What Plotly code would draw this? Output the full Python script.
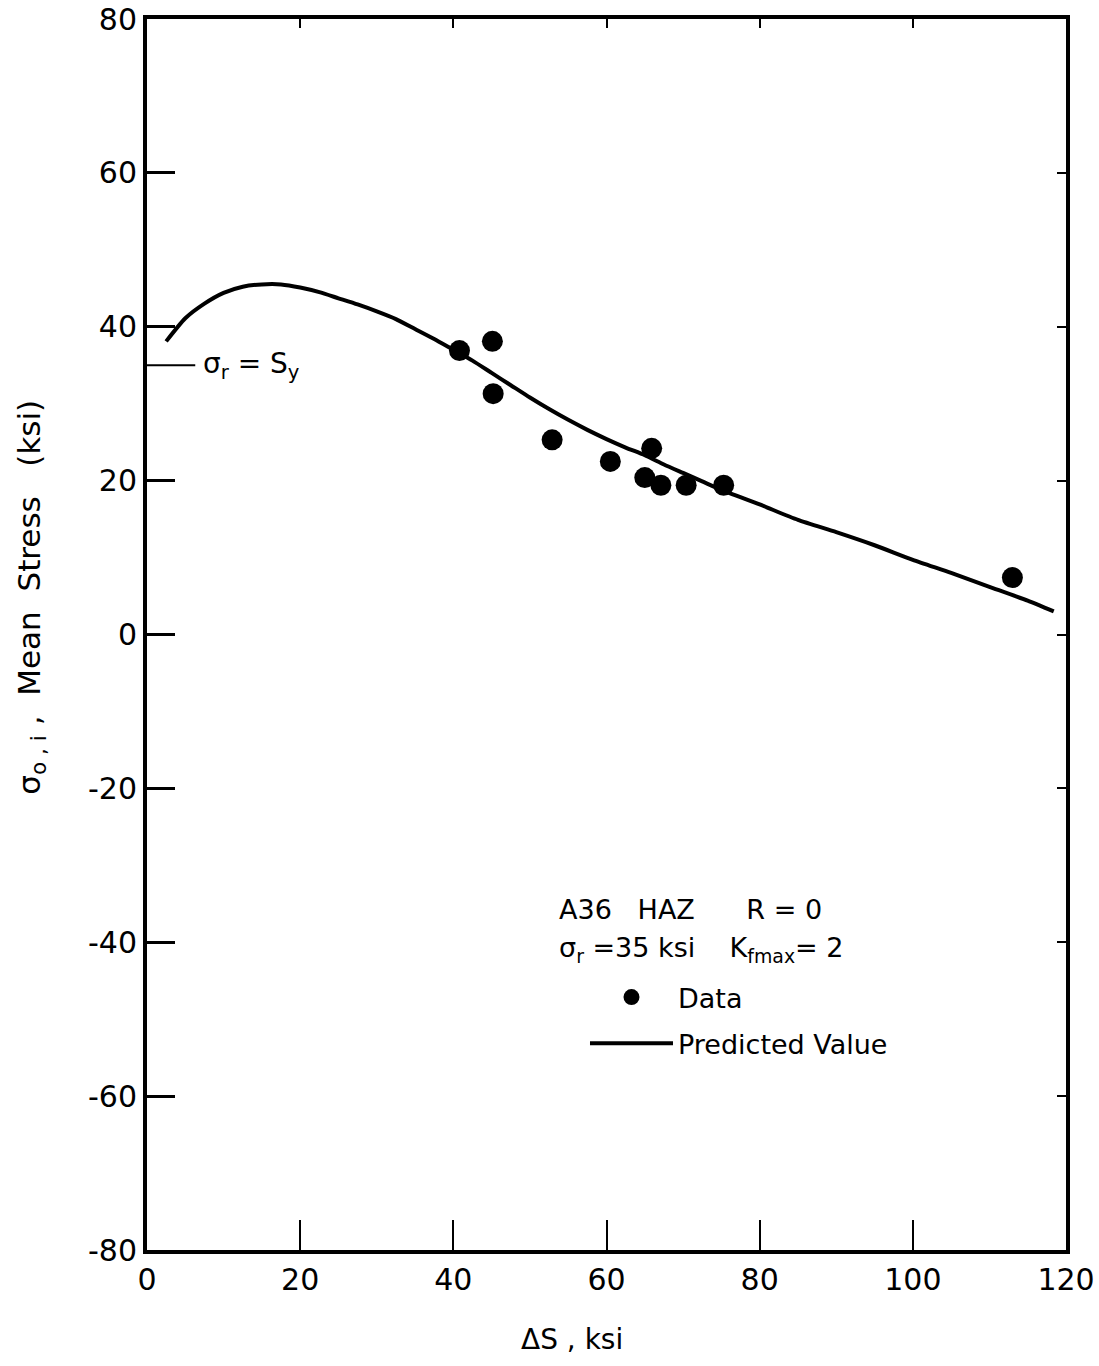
import plotly.graph_objects as go

# ---- data ----
data_ds = [40.8, 45.1, 45.2, 52.9, 60.5, 65.9, 65.0, 67.1, 70.4, 75.3, 113.0]
data_sigma = [36.9, 38.1, 31.3, 25.3, 22.5, 24.2, 20.4, 19.4, 19.4, 19.4, 7.4]

pred_ds = [2.5, 5, 7.5, 10, 12.5, 15, 17.5, 20, 22.5, 25, 27.5, 30, 32.5, 35, 37.5,
           40, 42.5, 45, 47.5, 50, 52.5, 55, 57.5, 60, 62.5, 65, 67.5, 70, 72.5, 75,
           80, 85, 90, 95, 100, 105, 110, 115, 118.4]
pred_sigma = [38.1, 41.1, 43.0, 44.4, 45.2, 45.5, 45.5, 45.1, 44.5, 43.7, 42.9, 42.0,
              41.0, 39.7, 38.4, 37.0, 35.6, 34.0, 32.4, 30.8, 29.3, 27.9, 26.6, 25.4,
              24.3, 23.3, 22.1, 21.0, 19.9, 18.8, 16.9, 14.9, 13.3, 11.6, 9.7, 8.0,
              6.2, 4.4, 3.0]

sigma_r = 35  # residual stress = yield level marker

x_ticks = [0, 20, 40, 60, 80, 100, 120]
x_ticktext = ["0", "20", "40", "60", "80", "100", "120"]
y_ticks = [-80, -60, -40, -20, 0, 20, 40, 60, 80]
y_ticktext = ["-80", "-60", "-40", "-20", "0", "20", "40", "60", "80"]

FONT = "DejaVu Sans"

fig = go.Figure()

fig.add_trace(go.Scatter(
    x=data_ds, y=data_sigma, mode="markers", name="Data", legendgroup="a",
    marker=dict(color="black", size=21, line=dict(width=0)),
))
fig.add_trace(go.Scatter(
    x=pred_ds, y=pred_sigma, mode="lines", name="Predicted Value", legendgroup="b",
    line=dict(color="black", width=4, shape="spline", smoothing=0.6),
))
# invisible trace carrying the short-tick top/right axes
fig.add_trace(go.Scatter(x=[None], y=[None], xaxis="x2", yaxis="y2",
                         showlegend=False, hoverinfo="skip"))

fig.add_shape(type="line", xref="x", yref="y", x0=0, x1=6.3, y0=sigma_r, y1=sigma_r,
              line=dict(color="black", width=2))
fig.add_annotation(x=7.0, y=sigma_r, xref="x", yref="y", xanchor="left", yanchor="middle",
                   text="σ<sub>r</sub> = S<sub>y</sub>", showarrow=False,
                   font=dict(family=FONT, size=28, color="black"))

fig.add_annotation(x=53.6, y=-35.7, xref="x", yref="y", xanchor="left", yanchor="middle",
                   text="A36   HAZ      R = 0", showarrow=False,
                   font=dict(family=FONT, size=27, color="black"))
fig.add_annotation(x=53.6, y=-41.0, xref="x", yref="y", xanchor="left", yanchor="middle",
                   text="σ<sub>r</sub> =35 ksi    K<sub>fmax</sub>= 2", showarrow=False,
                   font=dict(family=FONT, size=27, color="black"))

# axis titles placed as in the reference
fig.add_annotation(x=-0.126, y=0.530, xref="paper", yref="paper", xanchor="center",
                   yanchor="middle", textangle=-90, showarrow=False,
                   text="σ<sub>o , i</sub> ,  Mean  Stress   (ksi)",
                   font=dict(family=FONT, size=31, color="black"))
fig.add_annotation(x=55.5, y=-0.073, xref="x", yref="paper", xanchor="center",
                   yanchor="middle", showarrow=False, text="ΔS , ksi",
                   font=dict(family=FONT, size=28, color="black"))

axis_common = dict(showgrid=False, zeroline=False, color="black", automargin=False)

fig.update_layout(
    width=1099, height=1366,
    margin=dict(l=147, r=33, t=19, b=116),
    paper_bgcolor="white", plot_bgcolor="white",
    font=dict(family=FONT, size=28, color="black"),
    showlegend=True,
    legend=dict(x=0.4766, y=0.225, xanchor="left", yanchor="top",
                bgcolor="rgba(0,0,0,0)", font=dict(family=FONT, size=27, color="black"),
                itemsizing="trace", itemwidth=83, tracegroupgap=8),
    xaxis=dict(range=[0, 120], tickvals=x_ticks, ticktext=x_ticktext,
               ticks="inside", ticklen=30, tickwidth=2, tickcolor="black",
               showline=True, linewidth=4, linecolor="black", mirror=True,
               tickfont=dict(family=FONT, size=30), **axis_common),
    yaxis=dict(range=[-80, 80], tickvals=y_ticks, ticktext=y_ticktext,
               ticks="inside", ticklen=28, tickwidth=2.5, tickcolor="black",
               showline=True, linewidth=4, linecolor="black", mirror=True,
               tickfont=dict(family=FONT, size=30), **axis_common),
    xaxis2=dict(range=[0, 120], overlaying="x", side="top", tickvals=x_ticks[1:-1],
                ticks="inside", ticklen=9, tickwidth=2, tickcolor="black",
                showticklabels=False, showline=False, **axis_common),
    yaxis2=dict(range=[-80, 80], overlaying="y", side="right", tickvals=y_ticks[1:-1],
                ticks="inside", ticklen=9, tickwidth=2, tickcolor="black",
                showticklabels=False, showline=False, **axis_common),
)

fig.write_html("out.html")
